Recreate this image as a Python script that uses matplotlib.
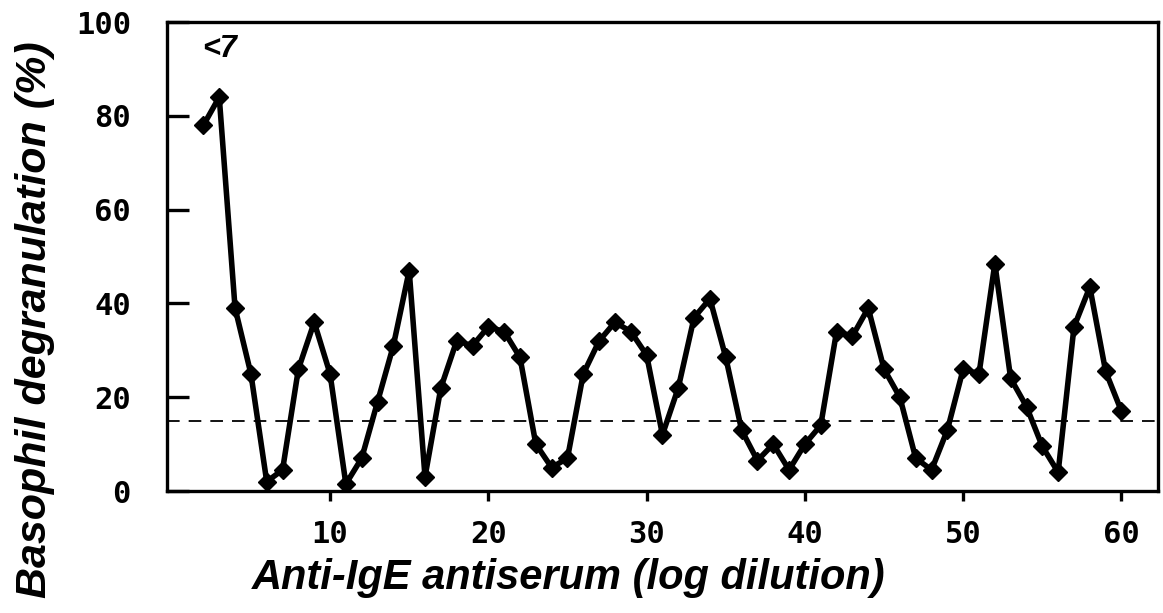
import numpy as np
import matplotlib
matplotlib.use("Agg")
from matplotlib import pyplot as plt

# --------- DATA ---------
dilution = list(range(2, 61))
degranulation = [78, 84, 39, 25, 2, 4.5, 26, 36, 25, 1.5,
                 7, 19, 31, 47, 3, 22, 32, 31, 35, 34,
                 28.5, 10, 5, 7, 25, 32, 36, 34, 29, 12,
                 22, 37, 41, 28.5, 13, 6.5, 10, 4.5, 10, 14,
                 34, 33, 39, 26, 20, 7, 4.5, 13, 26, 25,
                 48.5, 24, 18, 9.5, 4, 35, 43.5, 25.5, 17]
threshold = 15
xticks = [10, 20, 30, 40, 50, 60]
yticks = [0, 20, 40, 60, 80, 100]
# -------------------------------------------------

fig = plt.figure(figsize=(11.63, 6.13), dpi=100)
ax = fig.add_axes([0.1436, 0.199, 0.852, 0.765])

ax.plot(dilution, degranulation, '-', color='black', linewidth=4,
        marker='D', markersize=9.5, markerfacecolor='black', markeredgecolor='black')
ax.axhline(threshold, color='black', linewidth=1.3, linestyle=(0, (7, 5)))

ax.set_xlim(-0.3, 62.3)
ax.set_ylim(0, 100)
ax.set_xticks(xticks)
ax.set_yticks(yticks)

tick_font = dict(family='DejaVu Sans Mono', weight='bold', size=22)
ax.set_xticklabels([str(t) for t in xticks], **tick_font)
ax.set_yticklabels([str(t) for t in yticks], **tick_font)
ax.tick_params(axis='y', direction='in', length=16, width=2.4, pad=26)
ax.tick_params(axis='x', direction='out', length=7, width=2.4, pad=14)
for s in ax.spines.values():
    s.set_linewidth(2.4)

ax.text(0.035, 0.975, "<7", transform=ax.transAxes, ha='left', va='top',
        fontsize=22, fontweight='bold', style='italic', family='Liberation Sans')

fig.text(0.489, 0.057, "Anti-IgE antiserum (log dilution)", ha='center', va='center',
         fontsize=30, fontweight='bold', style='italic', family='Liberation Sans')
fig.text(0.03, 0.478, "Basophil degranulation (%)", ha='center', va='center', rotation=90,
         fontsize=31, fontweight='bold', style='italic', family='Liberation Sans')

fig.savefig("out.png", dpi=100)
